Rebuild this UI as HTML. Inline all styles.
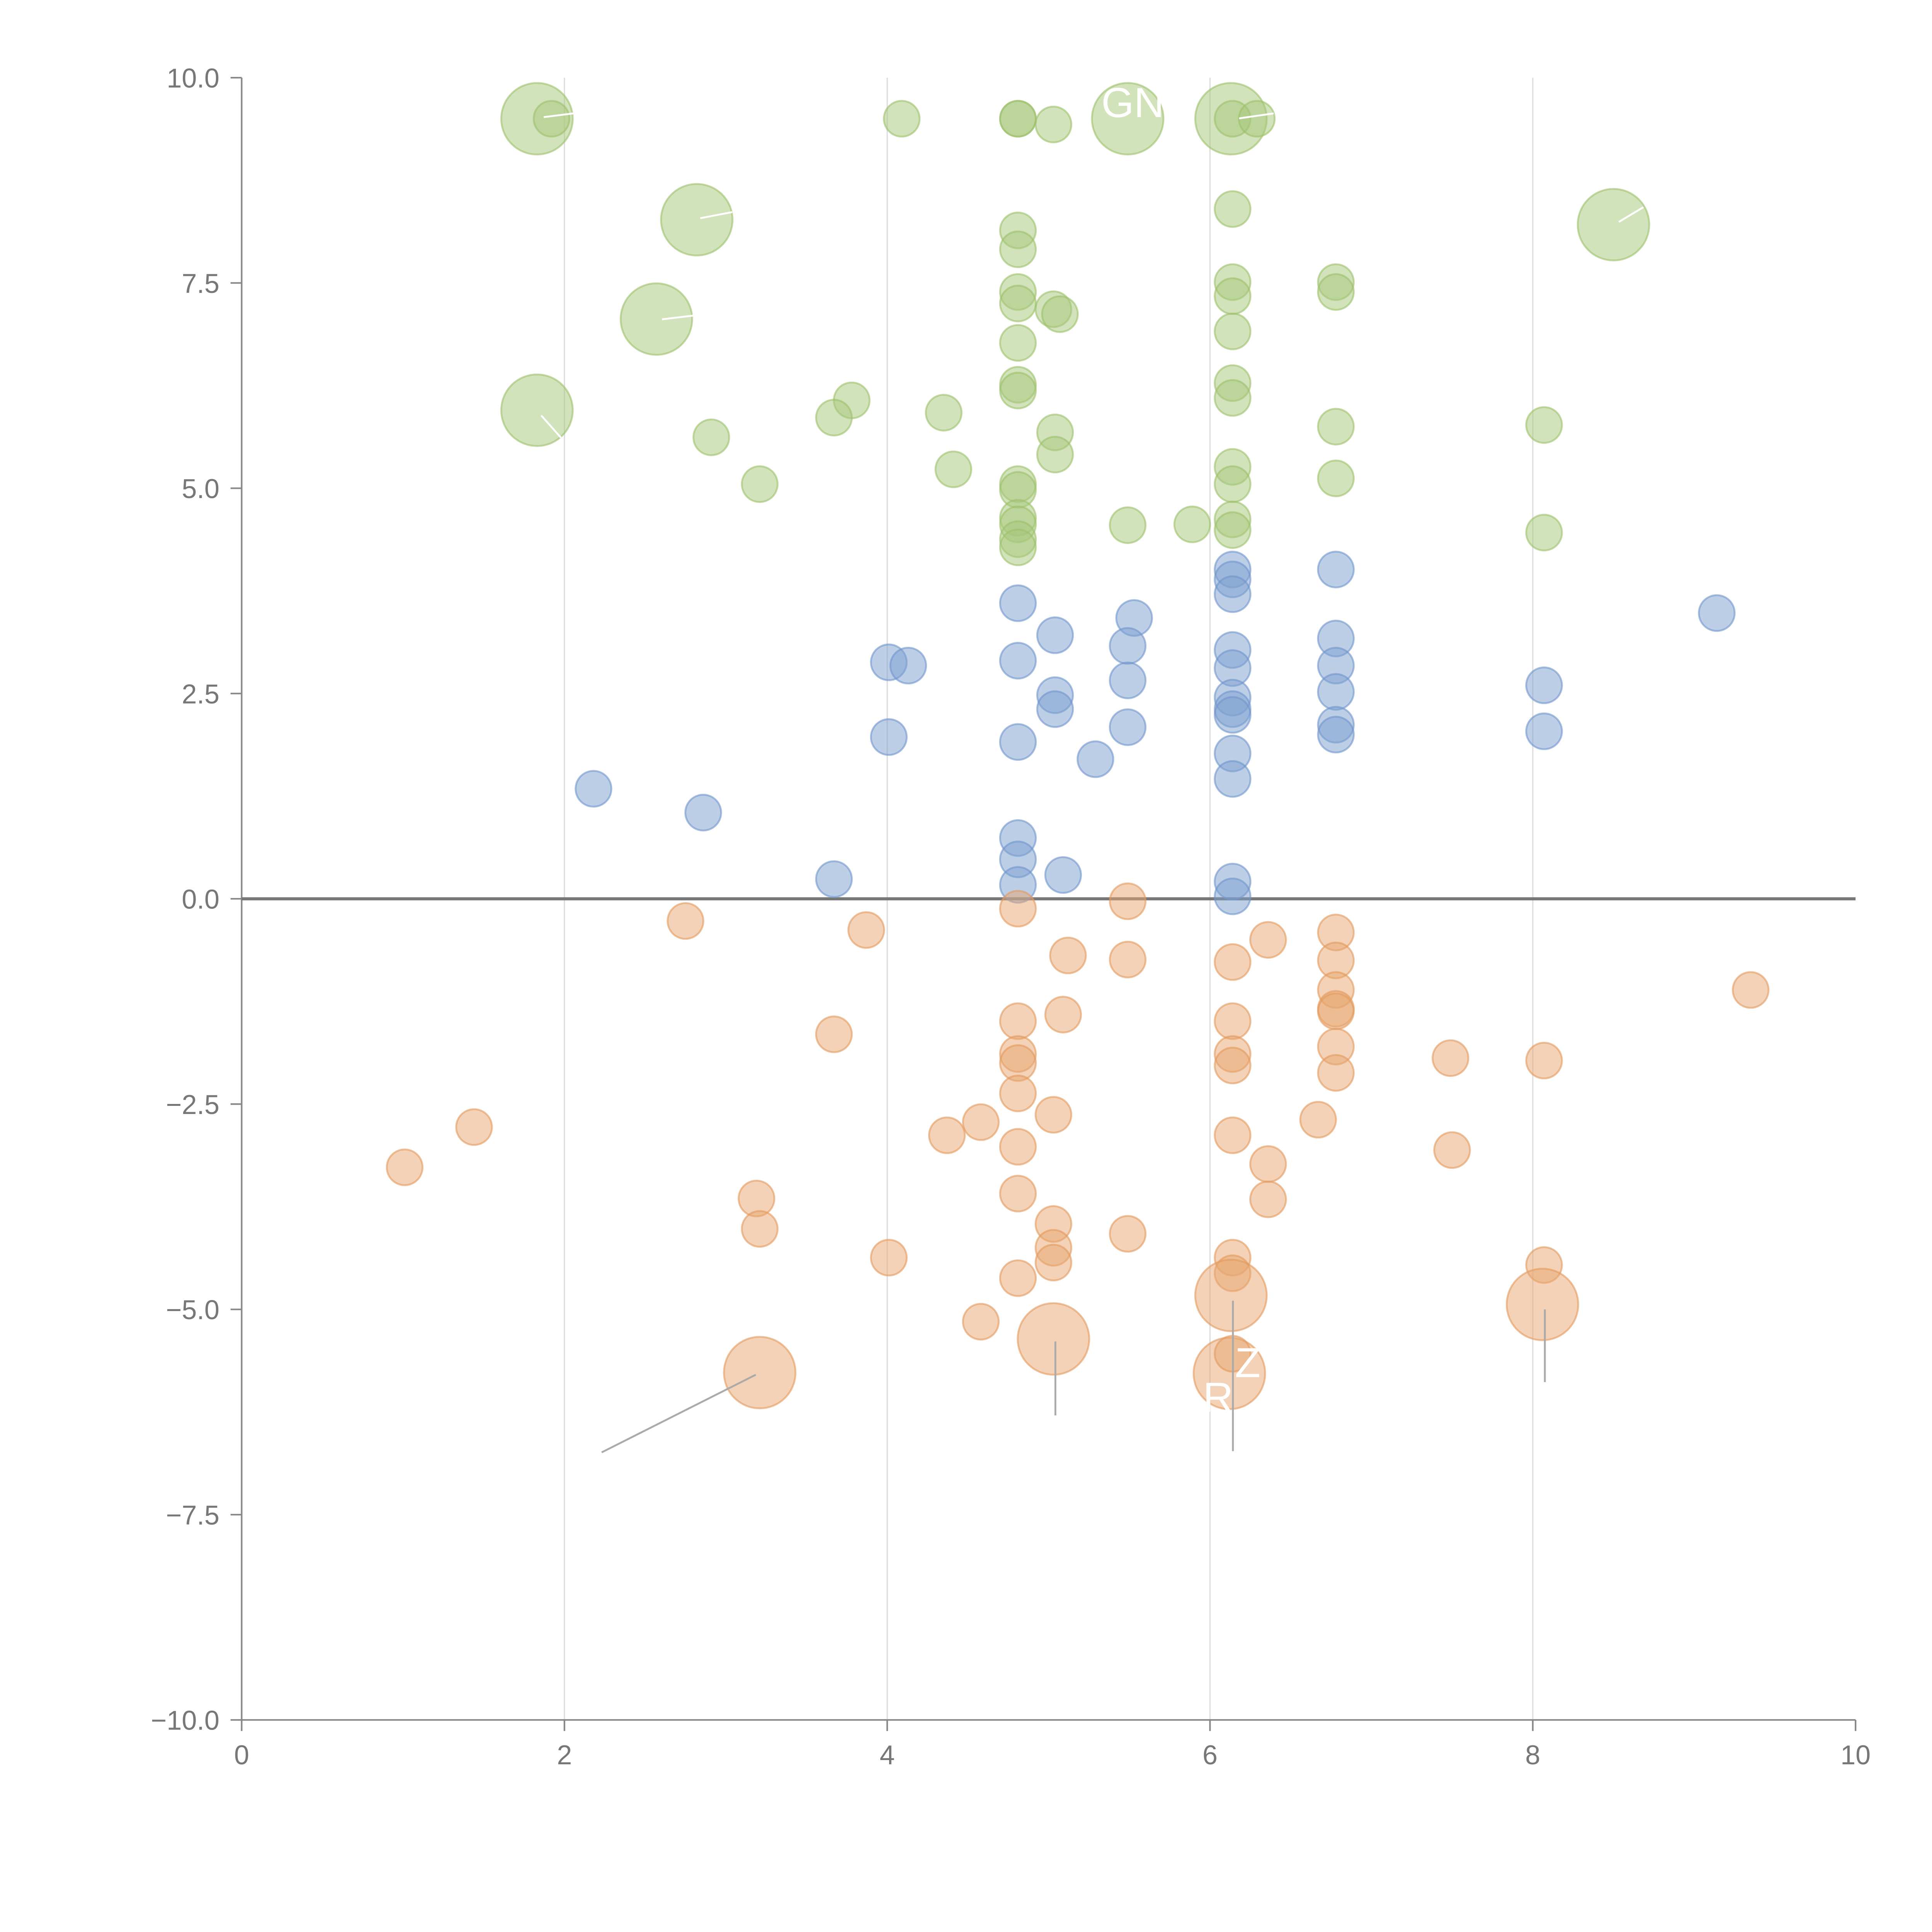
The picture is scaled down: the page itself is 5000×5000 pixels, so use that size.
<!DOCTYPE html>
<html><head><meta charset="utf-8"><style>
html,body{margin:0;padding:0;background:#fff;}
svg{display:block;}
text{font-family:"Liberation Sans",Arial,sans-serif;}
</style></head><body>
<svg id="chart" width="5000" height="5000" viewBox="0 0 1567 1567" xmlns="http://www.w3.org/2000/svg">
<g id="grid"></g>
<g id="axes"></g>
<g id="marks"></g>
<g id="ann"></g>
</svg>
<script>
const greenX=[1.83,1.92,4.09,4.81,4.81,5.03,5.49,6.13,6.14,6.29,2.82,8.50,6.14,4.81,4.81,4.81,4.81,5.03,5.07,6.14,6.14,6.78,6.78,2.57,4.81,6.14,4.81,4.81,6.14,6.14,1.83,3.78,3.67,4.35,2.91,5.04,5.04,6.78,8.07,6.14,6.14,4.41,6.78,3.21,4.81,4.81,4.81,4.81,4.81,4.81,6.14,6.14,5.49,5.89,8.07];
const greenY=[9.50,9.50,9.50,9.50,9.50,9.43,9.50,9.50,9.50,9.50,8.27,8.21,8.40,8.14,7.91,7.39,7.25,7.18,7.12,7.51,7.34,7.51,7.39,7.06,6.77,6.91,6.26,6.19,6.28,6.10,5.95,6.07,5.86,5.92,5.62,5.68,5.41,5.75,5.77,5.26,5.05,5.23,5.12,5.05,5.05,4.98,4.64,4.56,4.38,4.28,4.62,4.49,4.55,4.56,4.46];
const greenBig=[1,0,0,0,0,0,1,1,0,0,1,1,0,0,0,0,0,0,0,0,0,0,0,1,0,0,0,0,0,0,1,0,0,0,0,0,0,0,0,0,0,0,0,0,0,0,0,0,0,0,0,0,0,0,0];
const blueX=[6.14,6.14,6.14,6.78,4.81,5.53,9.14,5.04,6.78,6.14,5.49,4.01,4.13,4.81,6.14,6.78,5.49,8.07,6.14,6.78,5.04,5.04,6.14,6.14,6.78,6.78,5.49,4.01,4.81,8.07,5.29,6.14,6.14,2.18,2.86,4.81,4.81,3.67,5.09,4.81,6.14,6.14];
const blueY=[4.01,3.89,3.71,4.01,3.60,3.42,3.48,3.21,3.17,3.03,3.08,2.88,2.84,2.90,2.81,2.84,2.66,2.60,2.45,2.52,2.48,2.31,2.31,2.24,2.12,2.00,2.09,1.97,1.91,2.04,1.70,1.77,1.46,1.34,1.05,0.74,0.48,0.24,0.29,0.17,0.21,0.03];
const orangeX=[4.81,5.49,2.75,3.87,6.36,6.78,6.14,5.12,5.49,6.78,6.78,9.35,6.78,6.78,5.09,4.81,6.14,3.67,6.78,4.81,6.14,4.81,6.14,6.78,7.49,8.07,4.81,1.44,1.01,4.58,4.37,5.03,6.67,6.14,4.81,7.50,6.36,4.81,3.19,6.36,3.21,5.03,5.49,5.03,5.03,4.01,6.14,6.14,8.07,4.81,4.58,6.13,8.06,5.03,3.21,6.12,6.14];
const orangeY=[-0.12,-0.03,-0.27,-0.38,-0.50,-0.41,-0.77,-0.69,-0.74,-0.75,-1.11,-1.11,-1.34,-1.37,-1.41,-1.49,-1.49,-1.65,-1.80,-1.89,-1.89,-2.00,-2.03,-2.12,-1.94,-1.97,-2.37,-2.78,-3.27,-2.72,-2.88,-2.63,-2.69,-2.88,-3.02,-3.06,-3.23,-3.59,-3.65,-3.66,-4.02,-3.96,-4.08,-4.25,-4.43,-4.37,-4.37,-4.56,-4.46,-4.62,-5.15,-4.83,-4.94,-5.36,-5.77,-5.78,-5.54];
const orangeBig=[0,0,0,0,0,0,0,0,0,0,0,0,0,0,0,0,0,0,0,0,0,0,0,0,0,0,0,0,0,0,0,0,0,0,0,0,0,0,0,0,0,0,0,0,0,0,0,0,0,0,0,1,1,1,1,1,0];
const xTicks=[0,2,4,6,8,10];
const yTicks=[-10,-7.5,-5,-2.5,0,2.5,5,7.5,10];
const gridX=[2,4,6,8];

const NS="http://www.w3.org/2000/svg";
const X0=196,X1=1505,Y0=1395,Y1=63;
const sx=v=>X0+(v-0)/10*(X1-X0);
const sy=v=>Y0-(v+10)/20*(Y0-Y1);
function mk(tag,attrs,parent){const e=document.createElementNS(NS,tag);for(const k in attrs)e.setAttribute(k,attrs[k]);parent.appendChild(e);return e;}
const grid=document.getElementById('grid'),axes=document.getElementById('axes'),marks=document.getElementById('marks'),ann=document.getElementById('ann');
gridX.forEach(v=>{const l=mk('line',{x1:sx(v),x2:sx(v),y1:Y1,y2:Y0,stroke:'#dcdcdc','stroke-width':1},grid);

});
let a=mk('line',{x1:X0,x2:X0,y1:Y1,y2:Y0,stroke:'#888','stroke-width':1.3},axes);


a=mk('line',{x1:X0,x2:X1,y1:Y0,y2:Y0,stroke:'#888','stroke-width':1.3},axes);


yTicks.forEach(v=>{mk('line',{x1:X0-9,x2:X0,y1:sy(v),y2:sy(v),stroke:'#888','stroke-width':1.3},axes);
const t=mk('text',{x:X0-18,y:sy(v)+8,'text-anchor':'end','font-size':22,fill:'#777'},axes);
t.textContent=(v<0?'\u2212':'')+Math.abs(v).toFixed(1);

});
xTicks.forEach(v=>{mk('line',{x1:sx(v),x2:sx(v),y1:Y0,y2:Y0+9,stroke:'#888','stroke-width':1.3},axes);
const t=mk('text',{x:sx(v),y:Y0+36,'text-anchor':'middle','font-size':22,fill:'#777'},axes);
t.textContent=String(v);

});
function series(xs,ys,big,fill,stroke,name){xs.forEach((x,i)=>{const c=mk('circle',{cx:sx(x),cy:sy(ys[i]),r:big&&big[i]?29:14.5,fill:fill,'fill-opacity':0.5,stroke:stroke,'stroke-opacity':0.6,'stroke-width':1.5},marks);

});}
series(greenX,greenY,greenBig,'#a6c77a','#9cc06a','green-bubble');
series(blueX,blueY,null,'#7c9fd0','#6f95cc','blue-bubble');
series(orangeX,orangeY,orangeBig,'#e8a56f','#e39a5e','orange-bubble');
const z=mk('line',{x1:X0,x2:X1,y1:sy(0),y2:sy(0),stroke:'#777','stroke-width':2.5},axes);


[[613,1115,488,1178],[856,1088,856,1148],[1000,1055,1000,1177],[1253,1062,1253,1121]].forEach(p=>{const l=mk('line',{x1:p[0],y1:p[1],x2:p[2],y2:p[3],stroke:'#aaa','stroke-width':1.5},ann);

});
[[441,95,465,92],[568,177,594,172],[537,259,562,256],[439,337,455,355],[1313,180,1333,168],[1005,96,1033,92]].forEach(p=>{const l=mk('line',{x1:p[0],y1:p[1],x2:p[2],y2:p[3],stroke:'#fff','stroke-width':1.5},ann);

});
[['GNO',932,95],['Z',1012,1117],['R',988,1145]].forEach(p=>{const t=mk('text',{x:p[1],y:p[2],'text-anchor':'middle','font-size':34,fill:'#fff'},ann);
t.textContent=p[0];

});
</script>
</body></html>
